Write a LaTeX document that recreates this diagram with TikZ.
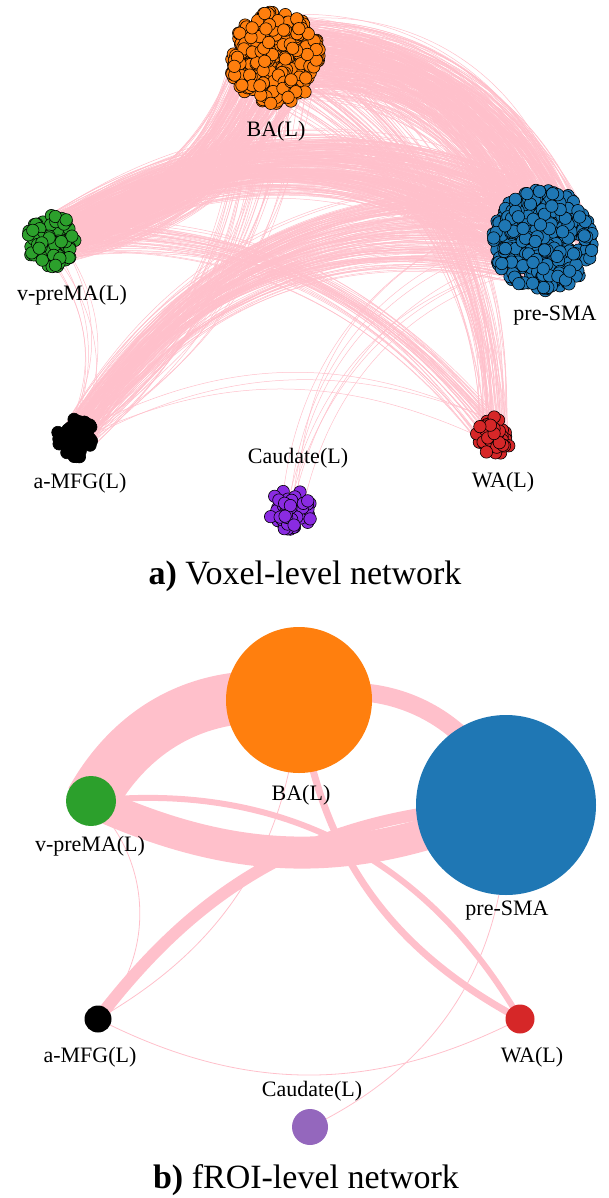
\documentclass[tikz,border=0pt]{standalone}
\usepackage{fontspec}
\setmainfont{Liberation Serif}
\usetikzlibrary{calc}
\definecolor{edgepink}{HTML}{FFC0CB}
\definecolor{cOrange}{HTML}{FF7F0E}
\definecolor{cBlue}{HTML}{1F77B4}
\definecolor{cGreen}{HTML}{2CA02C}
\definecolor{cRed}{HTML}{D62728}
\definecolor{cPurpleA}{HTML}{8A2BE2}
\definecolor{cPurpleB}{HTML}{9467BD}

\newcommand\bundle[6]{%
 \foreach \k in {1,...,#5}{%
  \pgfmathsetmacro\angA{360*rnd}\pgfmathsetmacro\radA{#2*sqrt(rnd)}%
  \pgfmathsetmacro\angB{360*rnd}\pgfmathsetmacro\radB{#4*sqrt(rnd)}%
  \draw[voxedge] ($(#1)+(\angA:\radA)$) to[#6] ($(#3)+(\angB:\radB)$);
 }}

\newcommand\voxels[5]{%
 \foreach \k in {1,...,#4}{%
  \pgfmathsetmacro\angA{360*rnd}\pgfmathsetmacro\radA{sqrt(rnd)}%
  \filldraw[voxel,fill=#5] ($(#1)+({#2*\radA*cos(\angA)},{#3*\radA*sin(\angA)})$) circle[radius=6.2];
 }}

\begin{document}
\begin{tikzpicture}[x=1pt,y=1pt,
 voxedge/.style={edgepink,line width=0.5pt},
 voxel/.style={draw=black,line width=0.6pt},
 lab/.style={font=\fontsize{22}{24}\selectfont,inner sep=0pt},
 ttl/.style={font=\fontsize{34}{38}\selectfont,inner sep=0pt},
 roi/.style={circle,inner sep=0pt,minimum size=#1pt},
 wedge/.style={edgepink,line width=#1}]
\useasboundingbox (0,0) rectangle (608,-1198);
\pgfmathsetseed{7}

% ---------- a) voxel-level ----------
\coordinate (bA) at (275,-58);
\coordinate (vA) at (52,-241);
\coordinate (sA) at (543,-240);
\coordinate (mA) at (77,-438);
\coordinate (cA) at (292,-509);
\coordinate (wA) at (494,-436);

\bundle{vA}{24}{bA}{44}{250}{bend right=30}
\bundle{vA}{24}{sA}{50}{300}{bend left=32}
\bundle{bA}{44}{sA}{50}{380}{bend left=40}
\bundle{mA}{18}{sA}{50}{170}{bend left=35}
\bundle{vA}{24}{wA}{17}{40}{bend left=28}
\bundle{bA}{44}{wA}{17}{60}{bend left=30}
\bundle{bA}{44}{mA}{18}{30}{bend left=25}
\bundle{vA}{24}{mA}{18}{6}{bend left=30}
\bundle{mA}{18}{wA}{17}{3}{bend left=26}
\bundle{cA}{22}{sA}{50}{8}{bend left=35}

\voxels{bA}{46}{46}{330}{cOrange}
\voxels{sA}{51}{51}{400}{cBlue}
\voxels{vA}{25}{26}{75}{cGreen}
\voxels{mA}{20}{19}{55}{black}
\voxels{cA}{23}{22}{60}{cPurpleA}
\voxels{wA}{19}{19}{55}{cRed}

\node[lab] (lbA) at (276,-131) {BA(L)};
\node[lab] (lvA) at (72,-295) {v-preMA(L)};
\node[lab] (lsA) at (555,-316) {pre-SMA};
\node[lab] (lmA) at (80,-483) {a-MFG(L)};
\node[lab] (lcA) at (298,-458) {Caudate(L)};
\node[lab] (lwA) at (503,-482) {WA(L)};
\node[ttl] (tA) at (305,-576) {\textbf{a)} Voxel-level network};

% ---------- b) fROI-level ----------
\coordinate (bB) at (299,-700);
\coordinate (sB) at (506,-805);
\coordinate (vB) at (91,-801);
\coordinate (mB) at (98,-1019);
\coordinate (wB) at (520,-1019);
\coordinate (cB) at (310,-1127);

\draw[wedge=52pt] (vB) to[bend left=35] (bB);
\draw[wedge=32pt] (vB) to[bend right=24] (sB);
\draw[wedge=18pt] (bB) to[bend left=45] (sB);
\draw[wedge=12pt] (mB) to[bend left=25] (sB);
\draw[wedge=6pt] (vB) to[bend left=33] (wB);
\draw[wedge=7pt] (bB) to[bend right=27] (wB);
\draw[wedge=0.8pt] (bB) to[bend left=28] (mB);
\draw[wedge=0.8pt] (vB) to[bend left=45] (mB);
\draw[wedge=0.8pt] (mB) to[bend right=27] (wB);
\draw[wedge=0.8pt] (cB) to[bend right=33] (sB);

\node[roi=146,fill=cOrange] (nbB) at (bB) {};
\node[roi=180,fill=cBlue] (nsB) at (sB) {};
\node[roi=50,fill=cGreen] (nvB) at (vB) {};
\node[roi=27,fill=black] (nmB) at (mB) {};
\node[roi=29,fill=cRed] (nwB) at (wB) {};
\node[roi=36,fill=cPurpleB] (ncB) at (cB) {};

\node[lab] (lbB) at (301,-795) {BA(L)};
\node[lab] (lvB) at (90,-846) {v-preMA(L)};
\node[lab] (lsB) at (507,-911) {pre-SMA};
\node[lab] (lmB) at (90,-1057) {a-MFG(L)};
\node[lab] (lwB) at (532,-1057) {WA(L)};
\node[lab] (lcB) at (312,-1091) {Caudate(L)};
\node[ttl] (tB) at (306,-1180) {\textbf{b)} fROI-level network};
\end{tikzpicture}
\end{document}
